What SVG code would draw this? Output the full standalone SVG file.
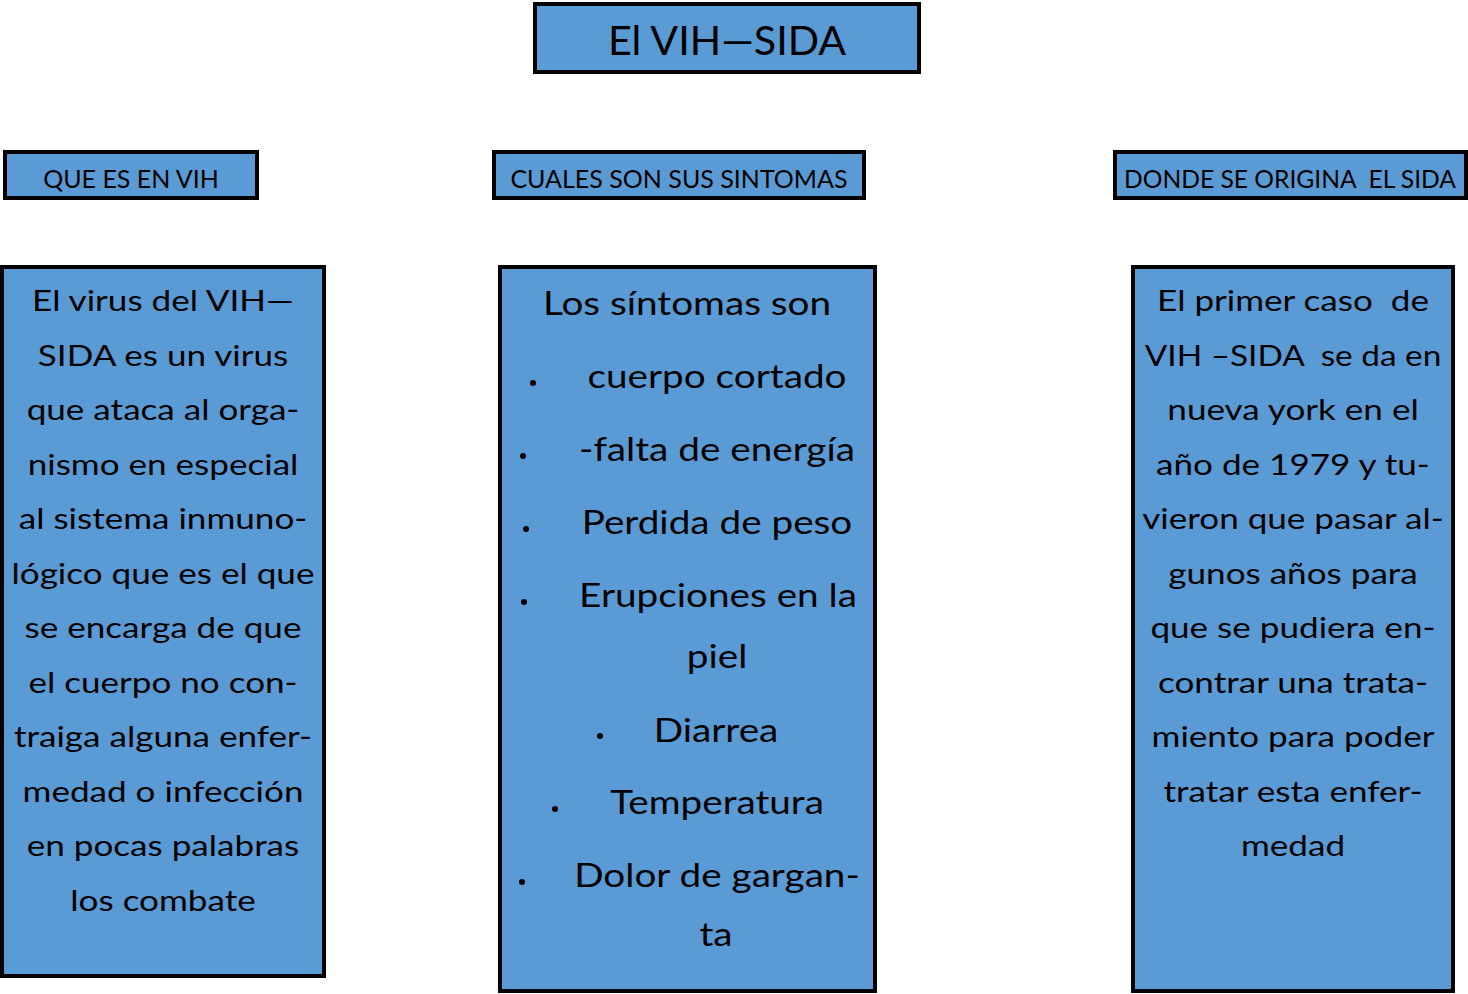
<svg xmlns="http://www.w3.org/2000/svg" width="1468" height="994" viewBox="0 0 1468 994">
<style>
.box{fill:#5B9BD5;stroke:#000;stroke-width:4}
text{font-family:Lato,"Open Sans","Liberation Sans",sans-serif;fill:#000;text-anchor:middle;white-space:pre}
.t{font-size:40px}
.h{font-size:25px}
.b{font-size:29px}
.m{font-size:32px}
.dot{fill:#000}
</style>
<rect width="1468" height="994" fill="#fff"/>
<g id="title">
<rect class="box" x="535" y="4" width="384" height="68"/>
<text class="t" transform="translate(727,55) scale(1.03,1)">El VIH—SIDA</text>
</g>
<g id="h1">
<rect class="box" x="5" y="152" width="252" height="46"/>
<text class="h" x="131" y="188">QUE ES EN VIH</text>
</g>
<g id="h2">
<rect class="box" x="494" y="152" width="370" height="46"/>
<text class="h" x="679" y="188">CUALES SON SUS SINTOMAS</text>
</g>
<g id="h3">
<rect class="box" x="1115" y="152" width="351" height="46"/>
<text class="h" transform="translate(1290,188) scale(0.985,1)">DONDE SE ORIGINA  EL SIDA</text>
</g>
<g id="left">
<rect class="box" x="2" y="267" width="322" height="709"/>
<text class="b" transform="translate(163,311) scale(1.21,1)">El virus del VIH—</text>
<text class="b" transform="translate(163,365.5) scale(1.21,1)">SIDA es un virus</text>
<text class="b" transform="translate(163,420) scale(1.21,1)">que ataca al orga-</text>
<text class="b" transform="translate(163,474.5) scale(1.21,1)">nismo en especial</text>
<text class="b" transform="translate(163,529) scale(1.21,1)">al sistema inmuno-</text>
<text class="b" transform="translate(163,583.5) scale(1.21,1)">lógico que es el que</text>
<text class="b" transform="translate(163,638) scale(1.21,1)">se encarga de que</text>
<text class="b" transform="translate(163,692.5) scale(1.21,1)">el cuerpo no con-</text>
<text class="b" transform="translate(163,747) scale(1.21,1)">traiga alguna enfer-</text>
<text class="b" transform="translate(163,801.5) scale(1.21,1)">medad o infección</text>
<text class="b" transform="translate(163,856) scale(1.21,1)">en pocas palabras</text>
<text class="b" transform="translate(163,910.5) scale(1.21,1)">los combate</text>
</g>
<g id="middle">
<rect class="box" x="500" y="267" width="375" height="724"/>
<text class="m" transform="translate(687,315) scale(1.21,1)">Los síntomas son</text>
<circle class="dot" cx="533" cy="383" r="3"/>
<text class="m" transform="translate(717,388) scale(1.21,1)">cuerpo cortado</text>
<circle class="dot" cx="523" cy="456" r="3"/>
<text class="m" transform="translate(717,461) scale(1.21,1)">-falta de energía</text>
<circle class="dot" cx="526" cy="529" r="3"/>
<text class="m" transform="translate(717,534) scale(1.21,1)">Perdida de peso</text>
<circle class="dot" cx="524" cy="602" r="3"/>
<text class="m" transform="translate(718,607) scale(1.21,1)">Erupciones en la</text>
<text class="m" transform="translate(717,668) scale(1.21,1)">piel</text>
<circle class="dot" cx="600" cy="736" r="3"/>
<text class="m" transform="translate(716,742) scale(1.21,1)">Diarrea</text>
<circle class="dot" cx="555" cy="809" r="3"/>
<text class="m" transform="translate(717,814) scale(1.21,1)">Temperatura</text>
<circle class="dot" cx="522" cy="882" r="3"/>
<text class="m" transform="translate(717,887) scale(1.21,1)">Dolor de gargan-</text>
<text class="m" transform="translate(716,946) scale(1.21,1)">ta</text>
</g>
<g id="right">
<rect class="box" x="1133" y="267" width="320" height="724"/>
<text class="b" transform="translate(1293,311) scale(1.21,1)">El primer caso  de</text>
<text class="b" transform="translate(1293,365.5) scale(1.15,1)">VIH –SIDA  se da en</text>
<text class="b" transform="translate(1293,420) scale(1.21,1)">nueva york en el</text>
<text class="b" transform="translate(1293,474.5) scale(1.21,1)">año de 1979 y tu-</text>
<text class="b" transform="translate(1293,529) scale(1.21,1)">vieron que pasar al-</text>
<text class="b" transform="translate(1293,583.5) scale(1.21,1)">gunos años para</text>
<text class="b" transform="translate(1293,638) scale(1.21,1)">que se pudiera en-</text>
<text class="b" transform="translate(1293,692.5) scale(1.21,1)">contrar una trata-</text>
<text class="b" transform="translate(1293,747) scale(1.21,1)">miento para poder</text>
<text class="b" transform="translate(1293,801.5) scale(1.21,1)">tratar esta enfer-</text>
<text class="b" transform="translate(1293,856) scale(1.21,1)">medad</text>
</g>
<g id="connectors"></g>
</svg>
